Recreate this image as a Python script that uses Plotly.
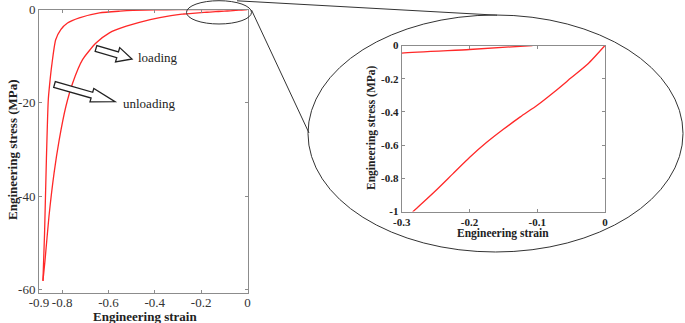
import math
import plotly.graph_objects as go

W, H = 685, 323

# ---- data ----
loading_strain = [0.0, -0.025, -0.05, -0.075, -0.1, -0.125, -0.15, -0.175, -0.2,
                  -0.225, -0.25, -0.275, -0.283, -0.33, -0.42, -0.523, -0.596, -0.654,
                  -0.712, -0.755, -0.784, -0.813, -0.835, -0.857, -0.874, -0.883]
loading_stress = [0.0, -0.11, -0.195, -0.28, -0.36, -0.43, -0.505, -0.585, -0.675,
                  -0.775, -0.875, -0.97, -1.0, -1.3, -2.15, -3.58, -5.0, -7.2,
                  -10.75, -15.8, -20.8, -28.0, -35.1, -44.4, -53.8, -58.2]

unloading_strain = [-0.883, -0.876, -0.868, -0.860, -0.854, -0.845, -0.828, -0.806, -0.777,
                    -0.726, -0.639, -0.55, -0.494, -0.40, -0.30, -0.20, -0.107]
unloading_stress = [-58.2, -48.0, -32.0, -19.4, -16.0, -12.0, -6.5, -4.3, -2.9,
                    -1.8, -0.72, -0.35, -0.2, -0.09, -0.046, -0.024, 0.0]

main_xticks = [-0.9, -0.8, -0.6, -0.4, -0.2, 0]
main_xticklabels = ["-0.9", "-0.8", "-0.6", "-0.4", "-0.2", "0"]
main_yticks = [0, -20, -40, -60]
main_yticklabels = ["0", "-20", "-40", "-60"]
inset_xticks = [-0.3, -0.2, -0.1, 0]
inset_xticklabels = ["-0.3", "-0.2", "-0.1", "0"]
inset_yticks = [0, -0.2, -0.4, -0.6, -0.8, -1]
inset_yticklabels = ["0", "-0.2", "-0.4", "-0.6", "-0.8", "-1"]

SERIF = "Liberation Serif, serif"
RED = "rgb(255,40,40)"
AX = "#8c8c8c"


def px(x):
    return x / W


def py(y):
    return 1 - y / H


fig = go.Figure()
for ax in ["x", "x2"]:
    yref = "y" if ax == "x" else "y2"
    fig.add_trace(go.Scatter(x=loading_strain, y=loading_stress, mode="lines",
                             line=dict(color=RED, width=1.3, shape="spline", smoothing=0.6),
                             xaxis=ax, yaxis=yref, showlegend=False, hoverinfo="skip"))
    fig.add_trace(go.Scatter(x=unloading_strain, y=unloading_stress, mode="lines",
                             line=dict(color=RED, width=1.3, shape="spline", smoothing=0.6),
                             xaxis=ax, yaxis=yref, showlegend=False, hoverinfo="skip"))

axcommon = dict(showgrid=False, zeroline=False, showline=True, linecolor=AX, linewidth=1,
                mirror="ticks", ticks="inside", ticklen=3, tickcolor=AX, automargin=False)

fig.update_layout(
    width=W, height=H, autosize=False,
    margin=dict(l=0, r=0, t=0, b=0, pad=0),
    paper_bgcolor="white", plot_bgcolor="white",
    xaxis=dict(domain=[px(39), px(247.5)], range=[-0.9, 0], tickvals=main_xticks,
               ticktext=main_xticklabels, anchor="y", ticklabelstandoff=-3,
               tickfont=dict(family=SERIF, size=13, color="#333"), **axcommon),
    yaxis=dict(domain=[py(293), py(9.5)], range=[-60.8, 0], tickvals=main_yticks,
               ticktext=main_yticklabels, anchor="x",
               tickfont=dict(family=SERIF, size=13, color="#333"), **axcommon),
    xaxis2=dict(domain=[px(401.7), px(605)], range=[-0.3, 0], tickvals=inset_xticks,
                ticktext=inset_xticklabels, anchor="y2",
                tickfont=dict(family=SERIF, size=11, color="#222", weight="bold"), **axcommon),
    yaxis2=dict(domain=[py(211.5), py(45.5)], range=[-1, 0], tickvals=inset_yticks,
                ticktext=inset_yticklabels, anchor="x2",
                tickfont=dict(family=SERIF, size=11, color="#222", weight="bold"), **axcommon),
)


def ann(x, y, text, size, angle=0, bold=False):
    fig.add_annotation(x=px(x), y=py(y), xref="paper", yref="paper",
                       text=("<b>%s</b>" % text) if bold else text, showarrow=False,
                       textangle=angle, xanchor="center", yanchor="middle",
                       font=dict(family=SERIF, size=size, color="#222"))


ann(145, 316.5, "Engineering strain", 13, bold=True)
ann(12, 150, "Engineering stress (MPa)", 13, angle=-90, bold=True)
ann(503, 233, "Engineering strain", 11.5, bold=True)
ann(371, 128, "Engineering stress (MPa)", 11.5, angle=-90, bold=True)
ann(157, 57, "loading", 13)
ann(149, 103.5, "unloading", 13)

shapes = []
# ellipses
shapes.append(dict(type="circle", xref="paper", yref="paper",
                   x0=px(186.5), x1=px(251.5), y0=py(24), y1=py(0.7),
                   line=dict(color="#333", width=1)))
shapes.append(dict(type="circle", xref="paper", yref="paper",
                   x0=px(308), x1=px(683), y0=py(252), y1=py(15),
                   line=dict(color="#333", width=1)))
# connectors
shapes.append(dict(type="line", xref="paper", yref="paper",
                   x0=px(237), y0=py(0.8), x1=px(497), y1=py(15.2),
                   line=dict(color="#333", width=1)))
shapes.append(dict(type="line", xref="paper", yref="paper",
                   x0=px(251.5), y0=py(10), x1=px(309), y1=py(133),
                   line=dict(color="#333", width=1)))


def block_arrow(tail, tip, w, h, L):
    dx, dy = tip[0] - tail[0], tip[1] - tail[1]
    n = math.hypot(dx, dy)
    ux, uy = dx / n, dy / n
    nx, ny = -uy, ux
    hx, hy = tip[0] - ux * L, tip[1] - uy * L
    pts = [(tail[0] + nx * w, tail[1] + ny * w), (hx + nx * w, hy + ny * w),
           (hx + nx * h, hy + ny * h), tip, (hx - nx * h, hy - ny * h),
           (hx - nx * w, hy - ny * w), (tail[0] - nx * w, tail[1] - ny * w)]
    path = "M " + " L ".join("%.5f,%.5f" % (px(a), py(b)) for a, b in pts) + " Z"
    return dict(type="path", xref="paper", yref="paper", path=path,
                fillcolor="white", line=dict(color="#222", width=1.3))


shapes.append(block_arrow((96, 48.5), (132, 59), 3, 7.5, 15))
shapes.append(block_arrow((54.5, 84.5), (115, 101.7), 3, 7, 24))

fig.update_layout(shapes=shapes)
fig.write_html("out.html", config={"displayModeBar": False},
               post_script="document.body.style.margin='0';document.body.style.padding='0';")
